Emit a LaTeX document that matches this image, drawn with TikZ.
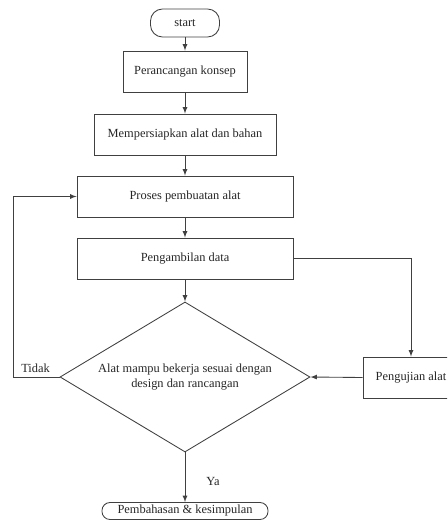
\documentclass[tikz,border=0pt]{standalone}
\usepackage{fontspec}
\setmainfont{Liberation Serif}
\usetikzlibrary{shapes.geometric}
\begin{document}
\begin{tikzpicture}[x=0.75pt,y=-0.75pt,font=\fontsize{9.3}{11}\selectfont,
    line width=0.65pt,draw=black!75,text=black!85,>=latex,
    proses/.style={draw,rectangle,minimum height=30.75pt,inner sep=2pt},
    terminal/.style={draw,rectangle,rounded corners=9pt,inner sep=2pt},
    keputusan/.style={draw,diamond,aspect=1.667,inner sep=0pt,
      minimum width=187.5pt,minimum height=112.5pt,align=center}]
    \clip (0,0) rectangle (447,521);

    % --- Nodes ---
    \node[terminal,minimum width=51.75pt,minimum height=21pt] (mulai) at (185,23) {start};
    \node[proses,minimum width=93pt] (konsep) at (185,71.5) {Perancangan konsep};
    \node[proses,minimum width=136.5pt] (siap) at (185,134.5) {Mempersiapkan alat dan bahan};
    \node[proses,minimum width=162pt] (buat) at (185,196.5) {Proses pembuatan alat};
    \node[proses,minimum width=162pt] (ambil) at (185,258.5) {Pengambilan data};
    \node[keputusan] (cek) at (185,377) {Alat mampu bekerja sesuai dengan\\design dan rancangan};
    \node[proses,minimum width=72pt] (uji) at (411,377.5) {Pengujian alat};
    \node[terminal,rounded corners=6pt,minimum width=124.5pt,minimum height=12.75pt,inner sep=1pt] (selesai) at (185,511) {Pembahasan \& kesimpulan};

    % --- Main flow ---
    \draw[->] (mulai) -- (konsep);
    \draw[->] (konsep) -- (siap);
    \draw[->] (siap) -- (buat);
    \draw[->] (buat) -- (ambil);
    \draw[->] (ambil) -- (cek);

    % --- Testing branch ---
    \draw[->] (ambil.east) -| (uji.north);
    \draw[->] (uji.west) -- (cek.east);

    % --- Tidak: back to process ---
    \coordinate (kiri) at (13,377);
    \draw[->] (cek.west) -- (kiri) |- (buat.west);
    \node (tidak) at (35.5,368) {Tidak};

    % --- Ya: to the end ---
    \draw[->] (cek.south) -- (selesai.north);
    \node (ya) at (213,481) {Ya};

  \end{tikzpicture}
\end{document}
